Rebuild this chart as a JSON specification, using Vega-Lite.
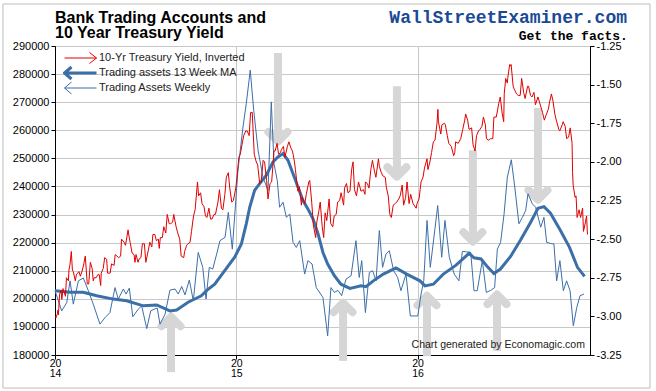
{
"$schema": "https://vega.github.io/schema/vega-lite/v6.json",
"width": 535, "height": 309,
"autosize": {"type": "none"},
"padding": {"left": 55, "top": 46, "right": 66, "bottom": 36},
"background": "white",
"datasets": {
"red": [
{"t":2014.003,"v":-3.00},{"t":2014.005,"v":-3.01},{"t":2014.014,"v":-2.98},{"t":2014.016,"v":-2.96},{"t":2014.019,"v":-2.99},{"t":2014.025,"v":-2.86},{"t":2014.033,"v":-2.83},{"t":2014.038,"v":-2.89},{"t":2014.044,"v":-2.82},{"t":2014.058,"v":-2.87},{"t":2014.063,"v":-2.75},{"t":2014.074,"v":-2.77},{"t":2014.077,"v":-2.70},{"t":2014.082,"v":-2.67},{"t":2014.090,"v":-2.58},{"t":2014.096,"v":-2.70},{"t":2014.101,"v":-2.71},{"t":2014.112,"v":-2.77},{"t":2014.118,"v":-2.73},{"t":2014.132,"v":-2.71},{"t":2014.140,"v":-2.74},{"t":2014.151,"v":-2.70},{"t":2014.159,"v":-2.66},{"t":2014.167,"v":-2.61},{"t":2014.178,"v":-2.79},{"t":2014.186,"v":-2.79},{"t":2014.195,"v":-2.65},{"t":2014.205,"v":-2.69},{"t":2014.211,"v":-2.77},{"t":2014.216,"v":-2.75},{"t":2014.227,"v":-2.75},{"t":2014.236,"v":-2.73},{"t":2014.244,"v":-2.73},{"t":2014.252,"v":-2.80},{"t":2014.255,"v":-2.72},{"t":2014.266,"v":-2.69},{"t":2014.274,"v":-2.62},{"t":2014.285,"v":-2.63},{"t":2014.290,"v":-2.72},{"t":2014.304,"v":-2.72},{"t":2014.312,"v":-2.66},{"t":2014.326,"v":-2.67},{"t":2014.332,"v":-2.60},{"t":2014.342,"v":-2.61},{"t":2014.351,"v":-2.62},{"t":2014.362,"v":-2.61},{"t":2014.367,"v":-2.50},{"t":2014.381,"v":-2.52},{"t":2014.389,"v":-2.54},{"t":2014.403,"v":-2.44},{"t":2014.408,"v":-2.48},{"t":2014.416,"v":-2.53},{"t":2014.425,"v":-2.59},{"t":2014.436,"v":-2.60},{"t":2014.441,"v":-2.65},{"t":2014.447,"v":-2.60},{"t":2014.458,"v":-2.65},{"t":2014.463,"v":-2.63},{"t":2014.474,"v":-2.62},{"t":2014.482,"v":-2.53},{"t":2014.493,"v":-2.53},{"t":2014.501,"v":-2.65},{"t":2014.515,"v":-2.57},{"t":2014.523,"v":-2.52},{"t":2014.534,"v":-2.55},{"t":2014.540,"v":-2.47},{"t":2014.551,"v":-2.47},{"t":2014.559,"v":-2.51},{"t":2014.570,"v":-2.50},{"t":2014.575,"v":-2.56},{"t":2014.581,"v":-2.49},{"t":2014.592,"v":-2.49},{"t":2014.600,"v":-2.42},{"t":2014.611,"v":-2.46},{"t":2014.619,"v":-2.34},{"t":2014.630,"v":-2.40},{"t":2014.638,"v":-2.40},{"t":2014.649,"v":-2.39},{"t":2014.655,"v":-2.34},{"t":2014.668,"v":-2.42},{"t":2014.677,"v":-2.46},{"t":2014.688,"v":-2.50},{"t":2014.696,"v":-2.61},{"t":2014.710,"v":-2.62},{"t":2014.715,"v":-2.58},{"t":2014.726,"v":-2.54},{"t":2014.734,"v":-2.53},{"t":2014.745,"v":-2.52},{"t":2014.753,"v":-2.45},{"t":2014.764,"v":-2.35},{"t":2014.773,"v":-2.31},{"t":2014.786,"v":-2.13},{"t":2014.792,"v":-2.22},{"t":2014.803,"v":-2.20},{"t":2014.811,"v":-2.27},{"t":2014.822,"v":-2.29},{"t":2014.830,"v":-2.35},{"t":2014.838,"v":-2.36},{"t":2014.849,"v":-2.30},{"t":2014.858,"v":-2.37},{"t":2014.866,"v":-2.37},{"t":2014.877,"v":-2.34},{"t":2014.885,"v":-2.34},{"t":2014.899,"v":-2.26},{"t":2014.907,"v":-2.18},{"t":2014.918,"v":-2.30},{"t":2014.926,"v":-2.31},{"t":2014.937,"v":-2.21},{"t":2014.945,"v":-2.10},{"t":2014.956,"v":-2.07},{"t":2014.964,"v":-2.17},{"t":2014.975,"v":-2.26},{"t":2014.984,"v":-2.25},{"t":2014.997,"v":-2.17},
{"t":2015.003,"v":-2.11},{"t":2015.014,"v":-1.97},{"t":2015.022,"v":-1.95},{"t":2015.036,"v":-1.86},{"t":2015.041,"v":-1.83},{"t":2015.052,"v":-1.80},{"t":2015.060,"v":-1.80},{"t":2015.071,"v":-1.83},{"t":2015.079,"v":-1.68},{"t":2015.088,"v":-1.68},{"t":2015.099,"v":-1.95},{"t":2015.110,"v":-2.00},{"t":2015.118,"v":-2.02},{"t":2015.129,"v":-2.14},{"t":2015.137,"v":-2.13},{"t":2015.148,"v":-1.99},{"t":2015.156,"v":-2.00},{"t":2015.167,"v":-2.12},{"t":2015.175,"v":-2.24},{"t":2015.186,"v":-2.14},{"t":2015.195,"v":-2.13},{"t":2015.208,"v":-1.93},{"t":2015.214,"v":-1.93},{"t":2015.225,"v":-1.88},{"t":2015.233,"v":-1.95},{"t":2015.244,"v":-1.94},{"t":2015.249,"v":-1.92},{"t":2015.260,"v":-1.90},{"t":2015.268,"v":-1.97},{"t":2015.282,"v":-1.90},{"t":2015.290,"v":-1.87},{"t":2015.301,"v":-1.91},{"t":2015.310,"v":-1.93},{"t":2015.321,"v":-2.00},{"t":2015.326,"v":-2.05},{"t":2015.340,"v":-2.19},{"t":2015.348,"v":-2.16},{"t":2015.359,"v":-2.28},{"t":2015.364,"v":-2.23},{"t":2015.378,"v":-2.27},{"t":2015.386,"v":-2.21},{"t":2015.400,"v":-2.13},{"t":2015.405,"v":-2.12},{"t":2015.416,"v":-2.26},{"t":2015.425,"v":-2.41},{"t":2015.438,"v":-2.49},{"t":2015.444,"v":-2.39},{"t":2015.455,"v":-2.32},{"t":2015.463,"v":-2.26},{"t":2015.474,"v":-2.42},{"t":2015.482,"v":-2.49},{"t":2015.490,"v":-2.33},{"t":2015.499,"v":-2.38},{"t":2015.512,"v":-2.24},{"t":2015.521,"v":-2.40},{"t":2015.532,"v":-2.42},{"t":2015.540,"v":-2.35},{"t":2015.551,"v":-2.34},{"t":2015.559,"v":-2.26},{"t":2015.570,"v":-2.25},{"t":2015.578,"v":-2.20},{"t":2015.592,"v":-2.28},{"t":2015.597,"v":-2.17},{"t":2015.608,"v":-2.14},{"t":2015.616,"v":-2.20},{"t":2015.627,"v":-2.19},{"t":2015.636,"v":-2.05},{"t":2015.644,"v":-2.00},{"t":2015.652,"v":-2.18},{"t":2015.663,"v":-2.22},{"t":2015.674,"v":-2.13},{"t":2015.688,"v":-2.19},{"t":2015.701,"v":-2.18},{"t":2015.710,"v":-2.21},{"t":2015.712,"v":-2.13},{"t":2015.723,"v":-2.14},{"t":2015.732,"v":-2.17},{"t":2015.742,"v":-2.05},{"t":2015.751,"v":-1.99},{"t":2015.762,"v":-2.06},{"t":2015.770,"v":-2.10},{"t":2015.784,"v":-1.98},{"t":2015.789,"v":-2.03},{"t":2015.800,"v":-2.07},{"t":2015.808,"v":-2.09},{"t":2015.822,"v":-2.10},{"t":2015.827,"v":-2.16},{"t":2015.838,"v":-2.22},{"t":2015.847,"v":-2.34},{"t":2015.855,"v":-2.36},{"t":2015.866,"v":-2.28},{"t":2015.877,"v":-2.27},{"t":2015.885,"v":-2.26},{"t":2015.896,"v":-2.24},{"t":2015.904,"v":-2.22},{"t":2015.915,"v":-2.15},{"t":2015.923,"v":-2.28},{"t":2015.934,"v":-2.23},{"t":2015.942,"v":-2.13},{"t":2015.953,"v":-2.27},{"t":2015.962,"v":-2.21},{"t":2015.975,"v":-2.27},{"t":2015.992,"v":-2.30},{"t":2015.997,"v":-2.27},
{"t":2016.008,"v":-2.24},{"t":2016.014,"v":-2.18},{"t":2016.019,"v":-2.13},{"t":2016.030,"v":-2.10},{"t":2016.038,"v":-2.04},{"t":2016.052,"v":-1.98},{"t":2016.057,"v":-2.05},{"t":2016.068,"v":-2.00},{"t":2016.077,"v":-1.94},{"t":2016.087,"v":-1.87},{"t":2016.096,"v":-1.86},{"t":2016.107,"v":-1.75},{"t":2016.112,"v":-1.66},{"t":2016.115,"v":-1.74},{"t":2016.128,"v":-1.82},{"t":2016.134,"v":-1.76},{"t":2016.148,"v":-1.75},{"t":2016.153,"v":-1.76},{"t":2016.164,"v":-1.83},{"t":2016.172,"v":-1.88},{"t":2016.186,"v":-1.90},{"t":2016.199,"v":-1.96},{"t":2016.205,"v":-1.94},{"t":2016.210,"v":-1.87},{"t":2016.224,"v":-1.88},{"t":2016.238,"v":-1.85},{"t":2016.249,"v":-1.79},{"t":2016.260,"v":-1.73},{"t":2016.265,"v":-1.69},{"t":2016.276,"v":-1.73},{"t":2016.284,"v":-1.79},{"t":2016.298,"v":-1.78},{"t":2016.306,"v":-1.89},{"t":2016.317,"v":-1.93},{"t":2016.325,"v":-1.83},{"t":2016.336,"v":-1.80},{"t":2016.344,"v":-1.79},{"t":2016.355,"v":-1.77},{"t":2016.363,"v":-1.71},{"t":2016.374,"v":-1.76},{"t":2016.380,"v":-1.85},{"t":2016.393,"v":-1.86},{"t":2016.402,"v":-1.85},{"t":2016.415,"v":-1.85},{"t":2016.421,"v":-1.71},{"t":2016.434,"v":-1.71},{"t":2016.448,"v":-1.62},{"t":2016.456,"v":-1.58},{"t":2016.467,"v":-1.69},{"t":2016.475,"v":-1.74},{"t":2016.478,"v":-1.56},{"t":2016.486,"v":-1.46},{"t":2016.495,"v":-1.49},{"t":2016.497,"v":-1.46},{"t":2016.508,"v":-1.37},{"t":2016.511,"v":-1.38},{"t":2016.516,"v":-1.37},{"t":2016.527,"v":-1.51},{"t":2016.533,"v":-1.53},{"t":2016.546,"v":-1.56},{"t":2016.555,"v":-1.57},{"t":2016.566,"v":-1.57},{"t":2016.574,"v":-1.46},{"t":2016.585,"v":-1.55},{"t":2016.593,"v":-1.59},{"t":2016.607,"v":-1.51},{"t":2016.612,"v":-1.51},{"t":2016.623,"v":-1.57},{"t":2016.631,"v":-1.58},{"t":2016.642,"v":-1.55},{"t":2016.650,"v":-1.63},{"t":2016.664,"v":-1.58},{"t":2016.669,"v":-1.60},{"t":2016.689,"v":-1.68},{"t":2016.699,"v":-1.73},{"t":2016.708,"v":-1.70},{"t":2016.721,"v":-1.66},{"t":2016.727,"v":-1.62},{"t":2016.738,"v":-1.56},{"t":2016.746,"v":-1.60},{"t":2016.757,"v":-1.69},{"t":2016.765,"v":-1.73},{"t":2016.779,"v":-1.79},{"t":2016.784,"v":-1.80},{"t":2016.798,"v":-1.76},{"t":2016.803,"v":-1.74},{"t":2016.814,"v":-1.77},{"t":2016.822,"v":-1.85},{"t":2016.833,"v":-1.84},{"t":2016.842,"v":-1.78},{"t":2016.852,"v":-1.88},{"t":2016.855,"v":-2.07},{"t":2016.858,"v":-2.15},{"t":2016.869,"v":-2.23},{"t":2016.874,"v":-2.22},{"t":2016.880,"v":-2.36},{"t":2016.891,"v":-2.31},{"t":2016.899,"v":-2.36},{"t":2016.910,"v":-2.30},{"t":2016.915,"v":-2.45},{"t":2016.926,"v":-2.39},{"t":2016.932,"v":-2.35},{"t":2016.937,"v":-2.47}
],
"weekly": [
{"t":2014.000,"v":202900},{"t":2014.037,"v":195700},{"t":2014.065,"v":198700},{"t":2014.083,"v":206400},{"t":2014.101,"v":198100},{"t":2014.129,"v":206400},{"t":2014.156,"v":207400},{"t":2014.184,"v":202900},{"t":2014.211,"v":198100},{"t":2014.248,"v":191000},{"t":2014.276,"v":193300},{"t":2014.303,"v":195100},{"t":2014.331,"v":204000},{"t":2014.349,"v":199900},{"t":2014.377,"v":203500},{"t":2014.392,"v":201700},{"t":2014.410,"v":203800},{"t":2014.429,"v":193600},{"t":2014.459,"v":196300},{"t":2014.478,"v":197500},{"t":2014.506,"v":189400},{"t":2014.528,"v":195700},{"t":2014.546,"v":196300},{"t":2014.564,"v":196700},{"t":2014.579,"v":191000},{"t":2014.607,"v":194500},{"t":2014.634,"v":203100},{"t":2014.662,"v":203500},{"t":2014.680,"v":201700},{"t":2014.699,"v":204400},{"t":2014.717,"v":201400},{"t":2014.741,"v":206700},{"t":2014.763,"v":199300},{"t":2014.790,"v":216500},{"t":2014.815,"v":211200},{"t":2014.833,"v":199900},{"t":2014.851,"v":211200},{"t":2014.870,"v":210600},{"t":2014.892,"v":216000},{"t":2014.910,"v":220700},{"t":2014.938,"v":221900},{"t":2014.956,"v":230800},{"t":2014.978,"v":217700},
{"t":2015.009,"v":245700},{"t":2015.037,"v":261200},{"t":2015.055,"v":269500},{"t":2015.077,"v":281400},{"t":2015.096,"v":267100},{"t":2015.120,"v":252900},{"t":2015.147,"v":243300},{"t":2015.175,"v":238600},{"t":2015.193,"v":270100},{"t":2015.208,"v":248100},{"t":2015.226,"v":242100},{"t":2015.239,"v":232600},{"t":2015.258,"v":234400},{"t":2015.276,"v":229000},{"t":2015.295,"v":230200},{"t":2015.313,"v":220100},{"t":2015.331,"v":218300},{"t":2015.350,"v":220700},{"t":2015.377,"v":208800},{"t":2015.395,"v":213600},{"t":2015.418,"v":212400},{"t":2015.441,"v":204000},{"t":2015.478,"v":200500},{"t":2015.504,"v":186800},{"t":2015.522,"v":204000},{"t":2015.541,"v":202300},{"t":2015.561,"v":203000},{"t":2015.581,"v":201100},{"t":2015.605,"v":207000},{"t":2015.633,"v":208200},{"t":2015.660,"v":220700},{"t":2015.678,"v":207600},{"t":2015.692,"v":213600},{"t":2015.712,"v":195100},{"t":2015.734,"v":209400},{"t":2015.752,"v":210000},{"t":2015.771,"v":206400},{"t":2015.789,"v":224300},{"t":2015.807,"v":211200},{"t":2015.826,"v":216000},{"t":2015.844,"v":217100},{"t":2015.868,"v":210000},{"t":2015.890,"v":207600},{"t":2015.908,"v":202900},{"t":2015.936,"v":208800},{"t":2015.960,"v":193900},{"t":2015.980,"v":193900},
{"t":2016.001,"v":193900},{"t":2016.019,"v":201700},{"t":2016.034,"v":206400},{"t":2016.052,"v":227900},{"t":2016.070,"v":211200},{"t":2016.089,"v":221300},{"t":2016.111,"v":233200},{"t":2016.133,"v":214800},{"t":2016.151,"v":227900},{"t":2016.175,"v":214800},{"t":2016.202,"v":208800},{"t":2016.228,"v":206400},{"t":2016.247,"v":216900},{"t":2016.271,"v":216700},{"t":2016.293,"v":216500},{"t":2016.311,"v":202900},{"t":2016.329,"v":202900},{"t":2016.357,"v":213600},{"t":2016.379,"v":202300},{"t":2016.403,"v":203000},{"t":2016.425,"v":204000},{"t":2016.440,"v":217700},{"t":2016.458,"v":220100},{"t":2016.477,"v":230200},{"t":2016.495,"v":243300},{"t":2016.517,"v":249500},{"t":2016.536,"v":239800},{"t":2016.559,"v":226700},{"t":2016.578,"v":229000},{"t":2016.596,"v":231400},{"t":2016.609,"v":237400},{"t":2016.633,"v":233800},{"t":2016.651,"v":232600},{"t":2016.679,"v":225500},{"t":2016.697,"v":229000},{"t":2016.712,"v":220100},{"t":2016.734,"v":219700},{"t":2016.752,"v":219500},{"t":2016.767,"v":206400},{"t":2016.785,"v":213600},{"t":2016.804,"v":202900},{"t":2016.822,"v":206400},{"t":2016.841,"v":202900},{"t":2016.859,"v":190400},{"t":2016.878,"v":196900},{"t":2016.896,"v":201100},{"t":2016.918,"v":201700}
],
"ma": [
{"t":2014.000,"v":202900},{"t":2014.083,"v":202300},{"t":2014.156,"v":202300},{"t":2014.230,"v":201100},{"t":2014.322,"v":199900},{"t":2014.395,"v":199300},{"t":2014.487,"v":197500},{"t":2014.561,"v":197800},{"t":2014.634,"v":195700},{"t":2014.671,"v":196000},{"t":2014.734,"v":198800},{"t":2014.807,"v":201100},{"t":2014.837,"v":203000},{"t":2014.881,"v":205200},{"t":2014.936,"v":210000},{"t":2014.991,"v":214800},{"t":2015.028,"v":219500},{"t":2015.055,"v":226700},{"t":2015.074,"v":232600},{"t":2015.101,"v":238600},{"t":2015.129,"v":241000},{"t":2015.165,"v":243900},{"t":2015.202,"v":248700},{"t":2015.230,"v":250500},{"t":2015.258,"v":251700},{"t":2015.285,"v":249300},{"t":2015.313,"v":244500},{"t":2015.340,"v":239800},{"t":2015.368,"v":235000},{"t":2015.395,"v":232000},{"t":2015.423,"v":228500},{"t":2015.451,"v":223100},{"t":2015.478,"v":216500},{"t":2015.504,"v":212400},{"t":2015.541,"v":208200},{"t":2015.577,"v":205200},{"t":2015.627,"v":203700},{"t":2015.688,"v":204600},{"t":2015.715,"v":204300},{"t":2015.756,"v":206400},{"t":2015.811,"v":208800},{"t":2015.881,"v":211000},{"t":2015.940,"v":208800},{"t":2016.013,"v":206400},{"t":2016.041,"v":204600},{"t":2016.087,"v":205200},{"t":2016.142,"v":208800},{"t":2016.212,"v":212000},{"t":2016.284,"v":216200},{"t":2016.311,"v":214600},{"t":2016.350,"v":214200},{"t":2016.388,"v":211200},{"t":2016.421,"v":209000},{"t":2016.457,"v":210600},{"t":2016.512,"v":215000},{"t":2016.568,"v":220900},{"t":2016.623,"v":227200},{"t":2016.664,"v":232200},{"t":2016.697,"v":232800},{"t":2016.733,"v":230500},{"t":2016.788,"v":224300},{"t":2016.838,"v":218300},{"t":2016.882,"v":211200},{"t":2016.921,"v":208000}
],
"arrows": [
{"t":2014.640,"base":173900,"tip":193600,"dir":"up"},
{"t":2015.230,"base":287500,"tip":256000,"dir":"down"},
{"t":2015.589,"base":177900,"tip":198600,"dir":"up"},
{"t":2015.886,"base":275700,"tip":243500,"dir":"down"},
{"t":2016.052,"base":179600,"tip":201100,"dir":"up"},
{"t":2016.305,"base":252900,"tip":220300,"dir":"down"},
{"t":2016.438,"base":181400,"tip":201500,"dir":"up"},
{"t":2016.664,"base":267900,"tip":235300,"dir":"down"}
]
},
"layer": [
{
"layer": [
{"data": {"values": [{}]}, "mark": {"type": "rect", "fill": null, "stroke": "#bdbdbd", "strokeWidth": 1},
 "encoding": {"x": {"datum": 2013.713, "type": "quantitative", "scale": {"domain": [2014, 2016.951], "nice": false, "zero": false}, "axis": {"values": [2014, 2015, 2016], "format": "d", "title": null, "grid": true, "labelFlush": false, "labelExpr": "[substring(datum.label,0,2), substring(datum.label,2,4)]", "labelFontSize": 10.5, "labelLineHeight": 10.5, "labelPadding": -1, "labelBaseline": "top"}},
  "x2": {"datum": 2017.282},
  "y": {"datum": 304950, "type": "quantitative", "scale": {"domain": [180000, 290000], "nice": false, "zero": false}, "axis": {"orient": "left", "values": [180000,190000,200000,210000,220000,230000,240000,250000,260000,270000,280000,290000], "format": "d", "title": null, "grid": true, "labelOverlap": false}},
  "y2": {"datum": 168250}}},
{"data": {"name": "arrows"}, "mark": {"type": "rule", "color": "#d6d6d6", "strokeWidth": 8, "strokeCap": "butt"},
 "encoding": {"x": {"field": "t", "type": "quantitative", "axis": {"values": [2014, 2015, 2016], "format": "d", "title": null, "grid": true, "labelFlush": false, "labelExpr": "[substring(datum.label,0,2), substring(datum.label,2,4)]", "labelFontSize": 10.5, "labelLineHeight": 10.5, "labelPadding": -1, "labelBaseline": "top"}},
  "y": {"field": "base", "type": "quantitative", "axis": {"orient": "left", "values": [180000,190000,200000,210000,220000,230000,240000,250000,260000,270000,280000,290000], "format": "d", "title": null, "grid": true, "labelOverlap": false}}, "y2": {"field": "tip"}}},
{"data": {"name": "arrows"}, "mark": {"type": "point", "filled": false, "color": "#d6d6d6", "strokeWidth": 8, "strokeCap": "round", "strokeJoin": "round", "size": 361, "opacity": 1},
 "encoding": {"x": {"field": "t", "type": "quantitative", "axis": {"values": [2014, 2015, 2016], "format": "d", "title": null, "grid": true, "labelFlush": false, "labelExpr": "[substring(datum.label,0,2), substring(datum.label,2,4)]", "labelFontSize": 10.5, "labelLineHeight": 10.5, "labelPadding": -1, "labelBaseline": "top"}},
  "y": {"field": "tip", "type": "quantitative", "axis": {"orient": "left", "values": [180000,190000,200000,210000,220000,230000,240000,250000,260000,270000,280000,290000], "format": "d", "title": null, "grid": true, "labelOverlap": false}},
  "shape": {"field": "dir", "type": "nominal", "scale": {"domain": ["up", "down"], "range": ["M-1,1L0,0L1,1", "M-1,-1L0,0L1,-1"]}, "legend": null}}},
{"data": {"name": "weekly"}, "mark": {"type": "line", "strokeWidth": 1},
 "encoding": {"x": {"field": "t", "type": "quantitative", "axis": {"values": [2014, 2015, 2016], "format": "d", "title": null, "grid": true, "labelFlush": false, "labelExpr": "[substring(datum.label,0,2), substring(datum.label,2,4)]", "labelFontSize": 10.5, "labelLineHeight": 10.5, "labelPadding": -1, "labelBaseline": "top"}},
  "y": {"field": "v", "type": "quantitative", "axis": {"orient": "left", "values": [180000,190000,200000,210000,220000,230000,240000,250000,260000,270000,280000,290000], "format": "d", "title": null, "grid": true, "labelOverlap": false}},
  "color": {"datum": "Trading Assets Weekly", "scale": {"domain": ["10-Yr Treasury Yield, Inverted", "Trading assets 13 Week MA", "Trading Assets Weekly"], "range": ["#e00000", "#3b6fa8", "#3b6fa8"]}}}},
{"data": {"name": "ma"}, "mark": {"type": "line", "strokeWidth": 3},
 "encoding": {"x": {"field": "t", "type": "quantitative", "axis": {"values": [2014, 2015, 2016], "format": "d", "title": null, "grid": true, "labelFlush": false, "labelExpr": "[substring(datum.label,0,2), substring(datum.label,2,4)]", "labelFontSize": 10.5, "labelLineHeight": 10.5, "labelPadding": -1, "labelBaseline": "top"}},
  "y": {"field": "v", "type": "quantitative", "axis": {"orient": "left", "values": [180000,190000,200000,210000,220000,230000,240000,250000,260000,270000,280000,290000], "format": "d", "title": null, "grid": true, "labelOverlap": false}},
  "color": {"datum": "Trading assets 13 Week MA"}}},
{"data": {"values": [{}]}, "mark": {"type": "text", "text": ["Bank Trading Accounts and", "10 Year Treasury Yield"], "lineHeight": 15.5, "align": "left", "baseline": "alphabetic", "font": "Liberation Sans", "fontSize": 16, "fontWeight": "bold", "color": "#000"},
 "encoding": {"x": {"datum": 2014.0, "type": "quantitative", "axis": {"values": [2014, 2015, 2016], "format": "d", "title": null, "grid": true, "labelFlush": false, "labelExpr": "[substring(datum.label,0,2), substring(datum.label,2,4)]", "labelFontSize": 10.5, "labelLineHeight": 10.5, "labelPadding": -1, "labelBaseline": "top"}},
  "y": {"datum": 298200, "type": "quantitative", "axis": {"orient": "left", "values": [180000,190000,200000,210000,220000,230000,240000,250000,260000,270000,280000,290000], "format": "d", "title": null, "grid": true, "labelOverlap": false}}}},
{"data": {"values": [{}]}, "mark": {"type": "text", "text": "WallStreetExaminer.com", "align": "right", "baseline": "alphabetic", "font": "Liberation Mono", "fontSize": 18, "fontWeight": "bold", "color": "#1a4a96"},
 "encoding": {"x": {"datum": 2017.155, "type": "quantitative", "axis": {"values": [2014, 2015, 2016], "format": "d", "title": null, "grid": true, "labelFlush": false, "labelExpr": "[substring(datum.label,0,2), substring(datum.label,2,4)]", "labelFontSize": 10.5, "labelLineHeight": 10.5, "labelPadding": -1, "labelBaseline": "top"}},
  "y": {"datum": 298200, "type": "quantitative", "axis": {"orient": "left", "values": [180000,190000,200000,210000,220000,230000,240000,250000,260000,270000,280000,290000], "format": "d", "title": null, "grid": true, "labelOverlap": false}}}},
{"data": {"values": [{}]}, "mark": {"type": "text", "text": "Get the facts.", "align": "right", "baseline": "alphabetic", "font": "Liberation Mono", "fontSize": 13, "fontWeight": "bold", "color": "#000"},
 "encoding": {"x": {"datum": 2017.160, "type": "quantitative", "axis": {"values": [2014, 2015, 2016], "format": "d", "title": null, "grid": true, "labelFlush": false, "labelExpr": "[substring(datum.label,0,2), substring(datum.label,2,4)]", "labelFontSize": 10.5, "labelLineHeight": 10.5, "labelPadding": -1, "labelBaseline": "top"}},
  "y": {"datum": 292300, "type": "quantitative", "axis": {"orient": "left", "values": [180000,190000,200000,210000,220000,230000,240000,250000,260000,270000,280000,290000], "format": "d", "title": null, "grid": true, "labelOverlap": false}}}},
{"data": {"values": [{}]}, "mark": {"type": "text", "text": "Chart generated by Economagic.com", "align": "right", "baseline": "alphabetic", "font": "Liberation Sans", "fontSize": 10.5, "color": "#222"},
 "encoding": {"x": {"datum": 2016.923, "type": "quantitative", "axis": {"values": [2014, 2015, 2016], "format": "d", "title": null, "grid": true, "labelFlush": false, "labelExpr": "[substring(datum.label,0,2), substring(datum.label,2,4)]", "labelFontSize": 10.5, "labelLineHeight": 10.5, "labelPadding": -1, "labelBaseline": "top"}},
  "y": {"datum": 182500, "type": "quantitative", "axis": {"orient": "left", "values": [180000,190000,200000,210000,220000,230000,240000,250000,260000,270000,280000,290000], "format": "d", "title": null, "grid": true, "labelOverlap": false}}}}
]
},
{"data": {"name": "red"}, "mark": {"type": "line", "strokeWidth": 1},
 "encoding": {"x": {"field": "t", "type": "quantitative", "axis": {"values": [2014, 2015, 2016], "format": "d", "title": null, "grid": true, "labelFlush": false, "labelExpr": "[substring(datum.label,0,2), substring(datum.label,2,4)]", "labelFontSize": 10.5, "labelLineHeight": 10.5, "labelPadding": -1, "labelBaseline": "top"}},
  "y": {"field": "v", "type": "quantitative", "scale": {"domain": [-3.25, -1.25], "nice": false, "zero": false}, "axis": {"orient": "right", "values": [-3.25,-3,-2.75,-2.5,-2.25,-2,-1.75,-1.5,-1.25], "format": ".2f", "title": null, "grid": false}},
  "color": {"datum": "10-Yr Treasury Yield, Inverted", "legend": {"title": null, "orient": "none", "legendX": 8, "legendY": 4.5, "padding": 0, "labelFont": "Liberation Sans", "labelFontSize": 11, "labelColor": "#222", "symbolSize": 100, "symbolOffset": 12, "labelOffset": 13, "rowPadding": 0, "clipHeight": 15, "symbolStrokeWidth": 1,
   "encode": {"symbols": {"update": {"shape": {"signal": "datum.value === '10-Yr Treasury Yield, Inverted' ? 'M-3.2,0H3.2M1.8,-1.1L3.2,0L1.8,1.1' : 'M-3.2,0H3.2M-1.8,-1.2L-3.2,0L-1.8,1.2'"}, "strokeWidth": {"signal": "datum.value === 'Trading assets 13 Week MA' ? 3 : 1"}, "fill": {"value": "transparent"}}}}}}}}
],
"resolve": {"scale": {"y": "independent"}},
"config": {
 "font": "Liberation Sans",
 "view": {"stroke": "#000", "strokeWidth": 1},
 "axis": {"labelFont": "Liberation Sans", "labelFontSize": 11, "labelColor": "#000", "domainColor": "#000", "tickColor": "#000", "tickSize": 4, "labelPadding": 2, "gridColor": "#c8c8c8", "gridWidth": 1},
 "locale": {"number": {"decimal": ".", "thousands": ",", "grouping": [3], "currency": ["$", ""], "minus": "-"}}
}
}
